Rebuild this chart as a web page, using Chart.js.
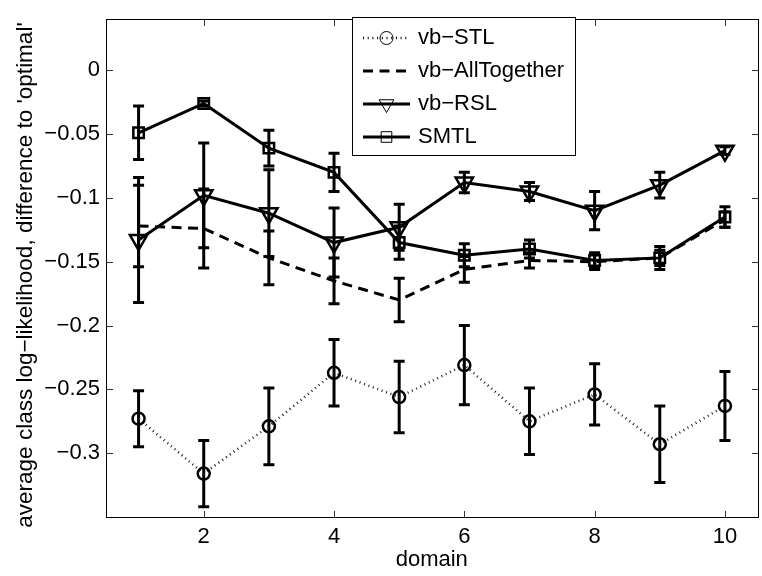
<!DOCTYPE html>
<html>
<head>
<meta charset="utf-8">
<script src="https://cdn.jsdelivr.net/npm/chart.js@4.4.0/dist/chart.umd.min.js"></script>
<style>
  html, body { margin: 0; padding: 0; background: #fff; overflow: hidden; }
  #wrap { width: 770px; height: 576px; }
</style>
</head>
<body>
<div id="wrap"><canvas id="chart" width="770" height="576"></canvas></div>
<script>
// values
const domains = [1, 2, 3, 4, 5, 6, 7, 8, 9, 10];

const stlMean = [-0.273, -0.316, -0.279, -0.237, -0.256, -0.231, -0.275, -0.254, -0.293, -0.263];
const stlErr  = [0.022, 0.026, 0.030, 0.026, 0.028, 0.031, 0.026, 0.024, 0.030, 0.027];

const allMean = [-0.122, -0.124, -0.147, -0.165, -0.180, -0.156, -0.149, -0.150, -0.147, -0.117];
const allErr  = [0.032, 0.031, 0.021, 0.018, 0.017, 0.010, 0.006, 0.006, 0.006, 0.006];

const rslMean = [-0.133, -0.098, -0.112, -0.135, -0.123, -0.088, -0.095, -0.110, -0.090, -0.063];
const rslErr  = [0.049, 0.041, 0.034, 0.027, 0.018, 0.008, 0.007, 0.015, 0.010, 0.003];

const smtlMean = [-0.049, -0.026, -0.061, -0.080, -0.135, -0.145, -0.140, -0.149, -0.147, -0.115];
const smtlErr  = [0.021, 0.002, 0.014, 0.015, 0.013, 0.009, 0.007, 0.006, 0.009, 0.008];

const xTicks = [2, 4, 6, 8, 10];
const yTicks = [0, -0.05, -0.1, -0.15, -0.2, -0.25, -0.3];

const FONT = '"Liberation Sans", Arial, Helvetica, sans-serif';
Chart.defaults.font.family = FONT;
Chart.defaults.font.size = 22;
Chart.defaults.color = '#000';

const pts = (means) => domains.map((d, i) => ({ x: d, y: means[i] }));

function series(label, means, errs, style) {
    return Object.assign({
        label: label,
        data: pts(means),
        errors: errs,
        borderColor: '#000',
        borderWidth: 3,
        borderDash: [],
        borderCapStyle: 'butt',
        pointBackgroundColor: 'rgba(0,0,0,0)',
        pointBorderColor: '#000',
        pointBorderWidth: 2.5,
        pointHoverRadius: 0,
        tension: 0,
        fill: false
    }, style);
}

// error bars drawn from the y scale
const errorBars = {
    id: 'errorBars',
    beforeDatasetsDraw(chart) {
        const { ctx, scales: { x, y } } = chart;
        ctx.save();
        ctx.strokeStyle = '#000';
        ctx.lineWidth = 3;
        ctx.lineCap = 'butt';
        chart.data.datasets.forEach(ds => {
            ds.data.forEach((p, j) => {
                const px = x.getPixelForValue(p.x);
                const top = y.getPixelForValue(p.y + ds.errors[j]);
                const bot = y.getPixelForValue(p.y - ds.errors[j]);
                ctx.beginPath();
                ctx.moveTo(px, top); ctx.lineTo(px, bot);
                ctx.moveTo(px - 5.5, top); ctx.lineTo(px + 5.5, top);
                ctx.moveTo(px - 5.5, bot); ctx.lineTo(px + 5.5, bot);
                ctx.stroke();
            });
        });
        ctx.restore();
    }
};

// matlab style box with inward ticks, y label and legend
const frame = {
    id: 'frame',
    afterDraw(chart) {
        const { ctx, chartArea: a, scales: { x, y } } = chart;
        const L = Math.round(a.left) + 0.5, R = Math.round(a.right) + 0.5;
        const T = Math.floor(a.top) + 0.5, B = Math.round(a.bottom) + 0.5;
        ctx.save();
        ctx.strokeStyle = '#000';
        ctx.lineWidth = 1;
        ctx.strokeRect(L, T, R - L, B - T);

        ctx.strokeStyle = '#333';
        ctx.beginPath();
        xTicks.forEach(v => {
            const px = Math.round(x.getPixelForValue(v)) + 0.5;
            ctx.moveTo(px, B); ctx.lineTo(px, B - 6.5);
            ctx.moveTo(px, T); ctx.lineTo(px, T + 6.5);
        });
        yTicks.forEach(v => {
            const py = Math.round(y.getPixelForValue(v)) + 0.5;
            ctx.moveTo(L, py); ctx.lineTo(L + 6.5, py);
            ctx.moveTo(R, py); ctx.lineTo(R - 6.5, py);
        });
        ctx.stroke();

        // y axis label
        ctx.fillStyle = '#000';
        ctx.font = '22.5px ' + FONT;
        ctx.textAlign = 'center';
        ctx.textBaseline = 'middle';
        ctx.save();
        ctx.translate(26, 275);
        ctx.rotate(-Math.PI / 2);
        ctx.fillText("average class log\u2212likelihood, difference to 'optimal'", 0, 0);
        ctx.restore();

        // legend
        ctx.font = '22px ' + FONT;
        const box = { x: 352.5, y: 17.5, w: 223, h: 138 };
        ctx.fillStyle = '#fff';
        ctx.fillRect(box.x, box.y, box.w, box.h);
        ctx.strokeStyle = '#000';
        ctx.lineWidth = 1;
        ctx.strokeRect(box.x, box.y, box.w, box.h);

        chart.data.datasets.forEach((ds, i) => {
            const cy = 38 + 33 * i;
            ctx.save();
            ctx.strokeStyle = '#000';
            ctx.lineWidth = ds.borderWidth;
            ctx.lineCap = 'butt';
            ctx.setLineDash(ds.borderDash || []);
            ctx.beginPath();
            ctx.moveTo(363, cy); ctx.lineTo(410, cy);
            ctx.stroke();
            ctx.setLineDash([]);
            if (ds.pointRadius > 0) {
                ctx.fillStyle = 'rgba(0,0,0,0)';
                ctx.strokeStyle = '#000';
                ctx.lineWidth = 1;
                Chart.helpers.drawPoint(ctx, {
                    pointStyle: ds.pointStyle,
                    rotation: ds.pointRotation || 0,
                    radius: ds.legendRadius,
                    borderWidth: 1
                }, 386.5, cy);
            }
            ctx.restore();
            ctx.fillStyle = '#000';
            ctx.textAlign = 'left';
            ctx.textBaseline = 'middle';
            ctx.fillText(ds.label, 418, cy);
        });
        ctx.restore();
    }
};

new Chart(document.getElementById('chart'), {
    type: 'line',
    data: {
        datasets: [
            series('vb\u2212STL', stlMean, stlErr, {
                borderWidth: 2.5, borderDash: [1, 3.7], borderColor: '#222',
                pointStyle: 'circle', pointRadius: 6, legendRadius: 6.5
            }),
            series('vb\u2212AllTogether', allMean, allErr, {
                borderDash: [10, 6.5], pointRadius: 0
            }),
            series('vb\u2212RSL', rslMean, rslErr, {
                pointStyle: 'triangle', pointRotation: 180, pointRadius: 10, legendRadius: 8.5
            }),
            series('SMTL', smtlMean, smtlErr, {
                pointStyle: 'rect', pointRadius: 7.4, legendRadius: 7.5
            })
        ]
    },
    options: {
        responsive: false,
        animation: false,
        events: [],
        layout: { padding: { left: 0, top: 6.5, right: 6, bottom: 0 } },
        plugins: { legend: { display: false }, tooltip: { enabled: false } },
        scales: {
            x: {
                type: 'linear',
                min: 0.5,
                max: 10.5,
                afterBuildTicks: s => { s.ticks = xTicks.map(v => ({ value: v })); },
                afterFit: s => { s.height = 59; },
                grid: { display: false, drawTicks: false },
                border: { display: false },
                ticks: { padding: 7, maxRotation: 0, autoSkip: false, font: { size: 22 } },
                title: { display: true, text: 'domain', font: { size: 22 }, padding: { top: 0, bottom: 3 } }
            },
            y: {
                type: 'linear',
                min: -0.35,
                max: 0.04,
                afterBuildTicks: s => { s.ticks = yTicks.map(v => ({ value: v })); },
                afterFit: s => { s.width = 106; },
                grid: { display: false, drawTicks: false },
                border: { display: false },
                ticks: {
                    padding: 6,
                    autoSkip: false,
                    font: { size: 22 },
                    callback: v => String(v).replace('-', '\u2212')
                }
            }
        }
    },
    plugins: [errorBars, frame]
});
</script>
</body>
</html>
